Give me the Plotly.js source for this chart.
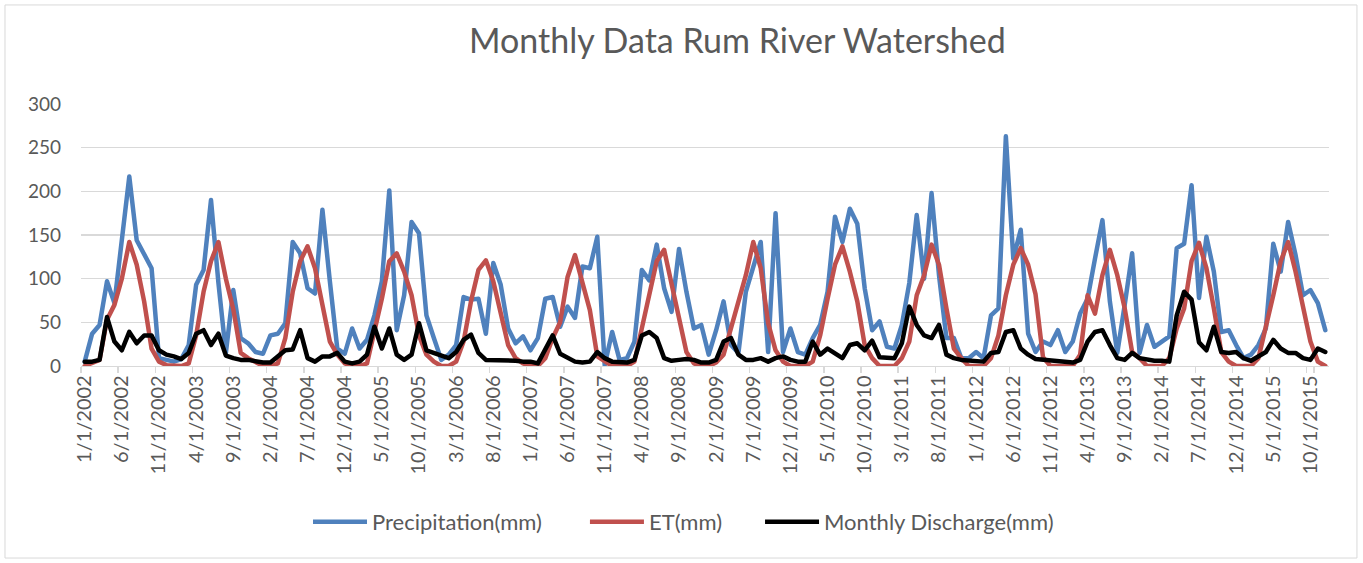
<!DOCTYPE html>
<html><head><meta charset="utf-8">
<script src="https://cdn.plot.ly/plotly-3.0.1.min.js"></script>
<style>
html,body{margin:0;padding:0;background:#fff;}
#chart{width:1363px;height:563px;}
.scatterlayer path.js-line{stroke-linejoin:round;stroke-linecap:round;}
</style>
</head><body><div id="chart"></div>
<script>
// Monthly values, Jan 2002 .. Dec 2015 (12 per row = one year)
const precipitation = [
  5, 37, 47, 97, 72, 145, 217, 144, 128, 112, 9, 7,
  5, 8, 24, 93, 110, 190, 95, 15, 87, 32, 26, 16,
  14, 35, 37, 49, 142, 129, 89, 83, 179, 97, 20, 14,
  43, 20, 30, 58, 97, 201, 41, 81, 165, 152, 58, 32,
  7, 13, 24, 79, 76, 77, 37, 118, 93, 43, 26, 34,
  18, 32, 77, 79, 45, 68, 55, 114, 112, 148, 1, 39,
  7, 9, 28, 110, 98, 139, 89, 62, 134, 85, 43, 47,
  13, 41, 74, 24, 15, 85, 112, 142, 16, 175, 16, 43,
  16, 13, 32, 47, 85, 171, 142, 180, 163, 89, 41, 51,
  22, 20, 47, 95, 173, 100, 198, 104, 32, 32, 9, 9,
  16, 9, 58, 66, 263, 123, 156, 37, 16, 28, 24, 41,
  16, 28, 60, 77, 123, 167, 74, 15, 70, 129, 15, 47,
  22, 28, 34, 135, 140, 207, 78, 148, 108, 39, 41, 24,
  9, 13, 24, 43, 140, 108, 165, 127, 81, 87, 72, 41
];
const et = [
  0, 3, 7, 53, 70, 100, 142, 116, 74, 20, 5, 1,
  0, 0, 3, 35, 85, 120, 142, 100, 65, 15, 9, 5,
  0, 0, 3, 32, 85, 120, 137, 112, 70, 28, 13, 3,
  0, 0, 3, 39, 77, 120, 129, 108, 81, 35, 13, 5,
  0, 0, 5, 28, 74, 110, 121, 97, 62, 24, 9, 3,
  0, 0, 9, 32, 50, 102, 127, 97, 64, 11, 5, 0,
  0, 0, 5, 43, 77, 120, 133, 93, 51, 16, 3, 0,
  0, 4, 13, 43, 74, 104, 142, 112, 49, 18, 5, 0,
  0, 0, 5, 35, 77, 116, 137, 108, 74, 24, 9, 0,
  0, 0, 9, 28, 81, 104, 139, 116, 66, 20, 9, 0,
  0, 0, 9, 35, 81, 116, 135, 116, 82, 10, 0, 0,
  0, 0, 13, 81, 60, 104, 133, 104, 66, 16, 9, 0,
  0, 0, 9, 43, 66, 120, 141, 112, 66, 16, 5, 0,
  0, 0, 9, 43, 81, 120, 142, 108, 66, 28, 5, 0
];
const discharge = [
  5, 5, 7, 56, 28, 18, 39, 26, 35, 35, 18, 13,
  11, 8, 15, 37, 41, 24, 37, 12, 9, 7, 7, 5,
  4, 4, 11, 18, 19, 41, 9, 5, 11, 11, 15, 5,
  3, 5, 13, 45, 20, 43, 13, 7, 13, 49, 18, 15,
  11, 9, 16, 30, 36, 15, 7, 7, 7, 7, 6, 5,
  5, 3, 20, 35, 14, 9, 5, 4, 5, 16, 9, 5,
  4, 4, 7, 35, 39, 32, 9, 6, 7, 8, 7, 4,
  4, 7, 28, 32, 13, 7, 7, 9, 5, 9, 11, 7,
  5, 5, 28, 13, 20, 15, 9, 24, 26, 18, 29, 10,
  9, 9, 26, 68, 47, 35, 32, 47, 13, 9, 7, 6,
  6, 5, 15, 16, 39, 41, 20, 13, 8, 7, 6, 5,
  4, 4, 7, 28, 39, 41, 24, 9, 7, 15, 9, 7,
  6, 6, 5, 58, 85, 76, 27, 18, 45, 16, 15, 16,
  9, 6, 11, 16, 30, 20, 15, 15, 9, 7, 20, 16
];
const years = [2002, 2003, 2004, 2005, 2006, 2007, 2008, 2009, 2010, 2011, 2012, 2013, 2014, 2015];
const months = [1, 2, 3, 4, 5, 6, 7, 8, 9, 10, 11, 12];
const categories = [];
years.forEach(y => months.forEach(m => categories.push(m + '/1/' + y)));
const tickLabels = categories.filter((c, i) => i % 5 === 0);
const seriesNames = ['Precipitation(mm)', 'ET(mm)', 'Monthly Discharge(mm)'];
const seriesColors = ['#4f81bd', '#c0504d', '#000000'];

const FONT = 'Lato, "Liberation Sans", sans-serif';
const series = [precipitation, et, discharge];
const legendIds = ['legend', 'legend2', 'legend3'];
const legendX = [0.1819, 0.4038, 0.5441];
const traces = series.map((vals, k) => ({
  type: 'scatter', mode: 'lines',
  x: categories, y: vals,
  name: seriesNames[k],
  legend: legendIds[k],
  line: {color: seriesColors[k], width: 4.5, shape: 'linear'},
  hoverinfo: 'skip'
}));

const layout = {
  width: 1363, height: 563,
  margin: {l: 81, r: 34, t: 104, b: 197, pad: 0},
  paper_bgcolor: '#ffffff', plot_bgcolor: '#ffffff',
  title: {
    text: 'Monthly Data Rum River Watershed',
    font: {family: FONT, size: 34, color: '#595959'},
    xref: 'container', yref: 'container', x: 0.541, xanchor: 'center', y: 0.927, yanchor: 'middle'
  },
  xaxis: {
    type: 'category',
    range: [-0.5, categories.length - 0.5],
    tickmode: 'array', tickvals: tickLabels, ticktext: tickLabels,
    tickson: 'boundaries',
    tickangle: -90,
    ticks: 'outside', ticklen: 6, tickcolor: '#d9d9d9', tickwidth: 1.3,
    showline: true, linecolor: '#d9d9d9', linewidth: 1.3,
    showgrid: false, zeroline: false,
    tickfont: {family: FONT, size: 20, color: '#595959'}
  },
  yaxis: {
    range: [0, 300], dtick: 50, tick0: 0,
    showgrid: true, gridcolor: '#d9d9d9', gridwidth: 1.3,
    zeroline: false, showline: false, ticks: '',
    ticklabelstandoff: 19,
    tickfont: {family: FONT, size: 19, color: '#595959'}
  },
  shapes: [{
    type: 'rect', xref: 'paper', yref: 'paper',
    x0: -0.0609, x1: 1.0224, y0: -0.733, y1: 1.378,
    line: {color: '#d9d9d9', width: 1}, fillcolor: 'rgba(0,0,0,0)', layer: 'below'
  }],
  hovermode: false,
  showlegend: true
};
legendIds.forEach((id, k) => {
  layout[id] = {
    orientation: 'h', x: legendX[k], xanchor: 'left', y: -0.595, yanchor: 'middle',
    font: {family: FONT, size: 22, color: '#595959'},
    itemwidth: 54, bgcolor: 'rgba(0,0,0,0)'
  };
});

Plotly.newPlot('chart', traces, layout, {displayModeBar: false, staticPlot: true});
</script>
</body></html>
